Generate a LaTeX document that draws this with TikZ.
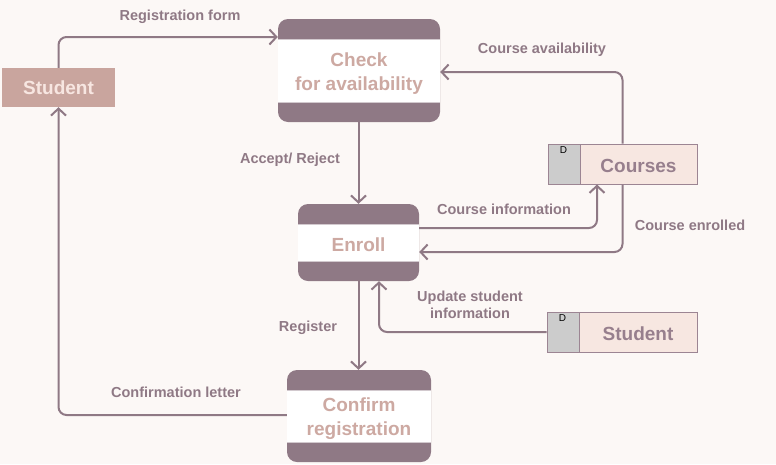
\documentclass[tikz,border=0pt]{standalone}
\usepackage{fontspec}
\setmainfont{Liberation Sans}
\usetikzlibrary{arrows.meta}
\definecolor{bg}{HTML}{FCF8F6}
\definecolor{band}{HTML}{8F7985}
\definecolor{ptext}{HTML}{CDA9A2}
\definecolor{extfill}{HTML}{C9A59E}
\definecolor{exttext}{HTML}{F7E6E1}
\definecolor{sfill}{HTML}{F7E7E1}
\definecolor{sgray}{HTML}{CCCCCC}
\definecolor{stext}{HTML}{977F8D}
\definecolor{sline}{HTML}{9C8593}
\tikzset{
  proc/.style={rounded corners=10pt, fill=band, inner sep=0pt,
    path picture={\fill[white, sharp corners] ([yshift=-20pt]path picture bounding box.north west) rectangle ([yshift=20pt]path picture bounding box.south east);
      \draw[sharp corners, line width=0.6pt, band!40] ([yshift=-20pt]path picture bounding box.north west) -- ([yshift=-20pt]path picture bounding box.north east)
      ([yshift=20pt]path picture bounding box.south west) -- ([yshift=20pt]path picture bounding box.south east);}},
  ptxt/.style={text=ptext, font=\fontsize{19}{24}\selectfont\bfseries, align=center, inner sep=0pt},
  ext/.style={fill=extfill, text=exttext, font=\fontsize{19}{22}\selectfont\bfseries, inner sep=0pt},
  store/.style={draw=sline, line width=1pt, fill=sfill, inner sep=0pt, minimum height=40pt,
    path picture={\fill[sgray] (path picture bounding box.north west) rectangle ([xshift=32pt]path picture bounding box.south west);
      \draw[sline, line width=1pt] ([xshift=32pt]path picture bounding box.north west) -- ([xshift=32pt]path picture bounding box.south west);}},
  stxt/.style={text=stext, font=\fontsize{19}{22}\selectfont\bfseries},
  dtxt/.style={font=\fontsize{10}{12}\selectfont, text=black, anchor=north, inner sep=0pt},
  flow/.style={draw=band, line width=2pt, rounded corners=8pt, -{Straight Barb[length=7pt,width=15pt]}},
  lbl/.style={text=band, font=\fontsize{14.5}{17}\selectfont\bfseries, align=center, inner sep=0pt},
}
\begin{document}
\begin{tikzpicture}[x=1pt,y=-1pt]
\fill[bg] (0,0) rectangle (776,464);
\useasboundingbox (0,0) rectangle (776,464);

\node[ext, minimum width=113pt, minimum height=39pt] (student) at (58.5,87.5) {Student};
\node[proc, minimum width=162pt, minimum height=103pt] (check) at (359,70.5) {};
\node[ptxt] (checktxt) at ([yshift=-3pt]check.center) {Check\\for availability};
\node[proc, minimum width=121pt, minimum height=77pt] (enroll) at (358.5,242.5) {};
\node[ptxt] (enrolltxt) at ([yshift=-2pt]enroll.center) {Enroll};
\node[proc, minimum width=144pt, minimum height=92pt] (confirm) at (359,416) {};
\node[ptxt] (confirmtxt) at ([yshift=-3pt]confirm.center) {Confirm\\registration};

\node[store, minimum width=149pt] (courses) at (622.5,164) {};
\node[stxt] (coursestxt) at ([xshift=16pt,yshift=-2pt]courses.center) {Courses};
\node[dtxt] (coursesd) at ([xshift=16pt,yshift=-3pt]courses.north west) {D};
\node[store, minimum width=150pt] (sstore) at (622,332) {};
\node[stxt] (sstoretxt) at ([xshift=16pt,yshift=-2pt]sstore.center) {Student};
\node[dtxt] (sstored) at ([xshift=16pt,yshift=-3pt]sstore.north west) {D};

\coordinate (yreg) at (0,37);
\coordinate (yavail) at (0,72);
\coordinate (yinfo) at (0,228);
\coordinate (xinfo) at (597,0);
\coordinate (yenr) at (0,252);
\coordinate (xupd) at (379,0);
\coordinate (yconf) at (0,415);

\draw[flow] (student.north) |- (check.west |- yreg);
\draw[flow] (courses.north) |- (check.east |- yavail);
\draw[flow] (check.south -| enroll.north) -- (enroll.north);
\draw[flow] (enroll.east |- yinfo) -| (courses.south -| xinfo);
\draw[flow] (courses.south) |- (enroll.east |- yenr);
\draw[flow] (sstore.west) -| (enroll.south -| xupd);
\draw[flow] (enroll.south) -- (enroll.south |- confirm.north);
\draw[flow] (confirm.west |- yconf) -| (student.south);

\node[lbl] (l1) at (180,17) {Registration form};
\node[lbl] (l2) at (542,50) {Course availability};
\node[lbl] (l3) at (290,160) {Accept/ Reject};
\node[lbl] (l4) at (504,209) {Course information};
\node[lbl] (l5) at (690,225) {Course enrolled};
\node[lbl] (l6) at (470,305) {Update student\\information};
\node[lbl] (l7) at (308,328) {Register};
\node[lbl] (l8) at (176,392) {Confirmation letter};
\end{tikzpicture}
\end{document}
